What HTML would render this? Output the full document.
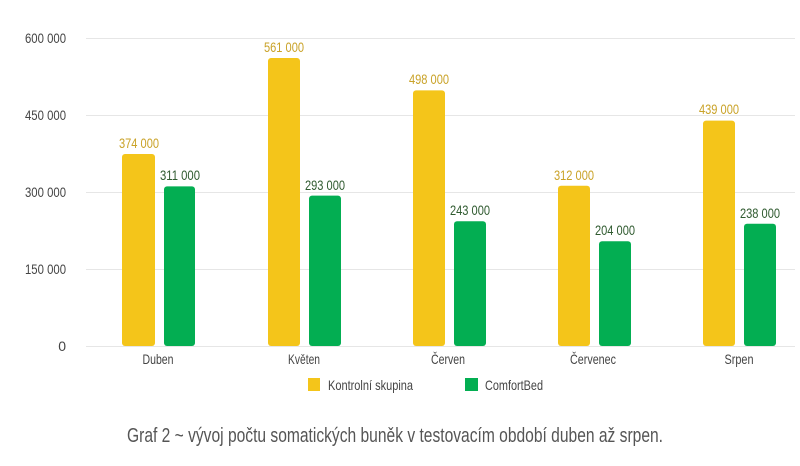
<!DOCTYPE html>
<html><head><meta charset="utf-8"><style>
html,body{margin:0;padding:0;background:#fff;}
svg{display:block;font-family:"Liberation Sans",sans-serif;}
</style></head><body>
<svg width="800" height="466" viewBox="0 0 800 466">
<g stroke="#e6e6e6" stroke-width="1">
<line x1="86" x2="795" y1="38.5" y2="38.5"/>
<line x1="86" x2="795" y1="115.5" y2="115.5"/>
<line x1="86" x2="795" y1="192.5" y2="192.5"/>
<line x1="86" x2="795" y1="269.5" y2="269.5"/>
<line x1="86" x2="795" y1="346.5" y2="346.5"/>
</g>
<g fill="#444" font-size="14" text-anchor="end">
<text x="66" y="43" textLength="41" lengthAdjust="spacingAndGlyphs">600 000</text>
<text x="66" y="120" textLength="41" lengthAdjust="spacingAndGlyphs">450 000</text>
<text x="66" y="197" textLength="41" lengthAdjust="spacingAndGlyphs">300 000</text>
<text x="66" y="274" textLength="41" lengthAdjust="spacingAndGlyphs">150 000</text>
<text x="66" y="351">0</text>
</g>
<g font-size="14" text-anchor="middle">
<rect x="122" y="154" width="33" height="192" rx="3" fill="#f4c51a"/>
<rect x="164" y="186.4" width="31" height="159.6" rx="3" fill="#03ae52"/>
<rect x="268" y="58" width="32" height="288" rx="3" fill="#f4c51a"/>
<rect x="309" y="195.6" width="32" height="150.4" rx="3" fill="#03ae52"/>
<rect x="413" y="90.4" width="32" height="255.6" rx="3" fill="#f4c51a"/>
<rect x="454" y="221.3" width="32" height="124.7" rx="3" fill="#03ae52"/>
<rect x="558" y="185.8" width="32" height="160.2" rx="3" fill="#f4c51a"/>
<rect x="599" y="241.3" width="32" height="104.7" rx="3" fill="#03ae52"/>
<rect x="703" y="120.6" width="32" height="225.4" rx="3" fill="#f4c51a"/>
<rect x="744" y="223.8" width="32" height="122.2" rx="3" fill="#03ae52"/>
<g fill="#c9a227">
<text x="139" y="148" textLength="40" lengthAdjust="spacingAndGlyphs">374 000</text>
<text x="284" y="52" textLength="40" lengthAdjust="spacingAndGlyphs">561 000</text>
<text x="429" y="84" textLength="40" lengthAdjust="spacingAndGlyphs">498 000</text>
<text x="574" y="180" textLength="40" lengthAdjust="spacingAndGlyphs">312 000</text>
<text x="719" y="114" textLength="40" lengthAdjust="spacingAndGlyphs">439 000</text>
</g>
<g fill="#2f5a2f">
<text x="180" y="180" textLength="40" lengthAdjust="spacingAndGlyphs">311 000</text>
<text x="325" y="190" textLength="40" lengthAdjust="spacingAndGlyphs">293 000</text>
<text x="470" y="215" textLength="40" lengthAdjust="spacingAndGlyphs">243 000</text>
<text x="615" y="235" textLength="40" lengthAdjust="spacingAndGlyphs">204 000</text>
<text x="760" y="218" textLength="40" lengthAdjust="spacingAndGlyphs">238 000</text>
</g>
<g fill="#444">
<text x="158" y="364" textLength="31" lengthAdjust="spacingAndGlyphs">Duben</text>
<text x="304" y="364" textLength="32" lengthAdjust="spacingAndGlyphs">Květen</text>
<text x="448" y="364" textLength="34" lengthAdjust="spacingAndGlyphs">Červen</text>
<text x="593" y="364" textLength="46" lengthAdjust="spacingAndGlyphs">Červenec</text>
<text x="739" y="364" textLength="29" lengthAdjust="spacingAndGlyphs">Srpen</text>
</g>
</g>
<rect x="308" y="378" width="12" height="13" fill="#f4c51a"/>
<rect x="465" y="378" width="13" height="13" fill="#03ae52"/>
<g fill="#444" font-size="14">
<text x="328" y="390" textLength="85" lengthAdjust="spacingAndGlyphs">Kontrolní skupina</text>
<text x="485" y="390" textLength="58" lengthAdjust="spacingAndGlyphs">ComfortBed</text>
</g>
<text x="127" y="442" fill="#555" font-size="20" textLength="536" lengthAdjust="spacingAndGlyphs">Graf 2 ~ vývoj počtu somatických buněk v testovacím období duben až srpen.</text>
</svg>
</body></html>
